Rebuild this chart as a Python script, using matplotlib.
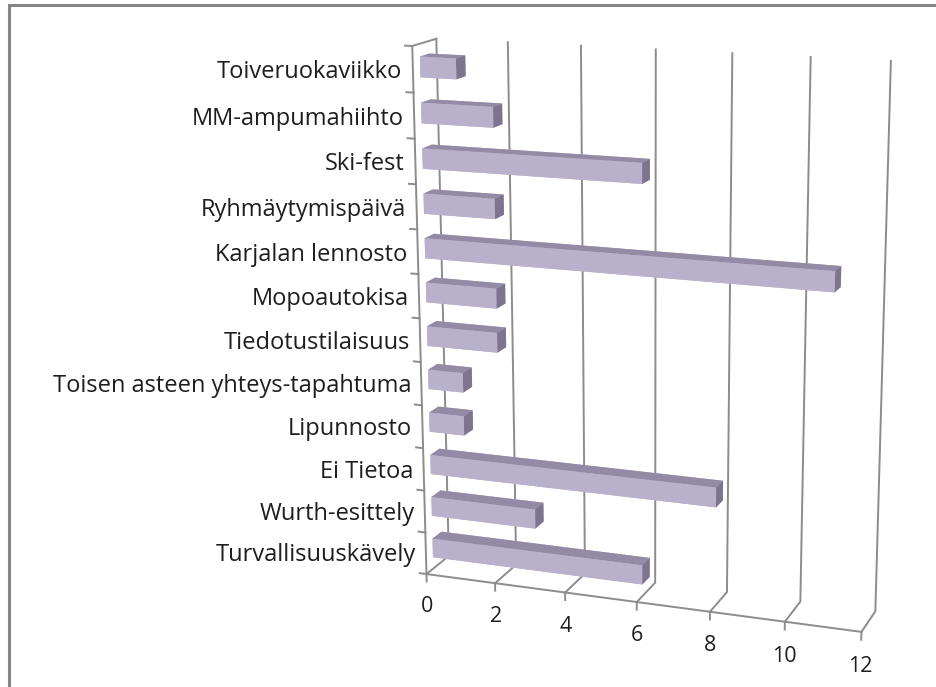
import matplotlib
matplotlib.use("Agg")
import matplotlib.pyplot as plt
from matplotlib.patches import Rectangle
from mpl_toolkits.mplot3d import proj3d
import numpy as np

# --- data (top to bottom as shown) ---
categories = ["Toiveruokaviikko", "MM-ampumahiihto", "Ski-fest", "Ryhmäytymispäivä",
              "Karjalan lennosto", "Mopoautokisa", "Tiedotustilaisuus",
              "Toisen asteen yhteys-tapahtuma", "Lipunnosto", "Ei Tietoa",
              "Wurth-esittely", "Turvallisuuskävely"]
values = [1, 2, 6, 2, 11, 2, 2, 1, 1, 8, 3, 6]
value_ticks = [0, 2, 4, 6, 8, 10, 12]

FACE = "#b9b0cb"
TOP = "#938aa6"
END = "#7d7490"
GRID = "#8c8c8c"
TXT = "#1e1e1e"
FONT = "Open Sans"

fig = plt.figure(figsize=(9.36, 6.87), dpi=100)
# chart-area border (right and bottom edges fall outside the picture)
fig.patches.append(Rectangle((9 / 936, -0.05), 1.0, (682 / 687) + 0.05, transform=fig.transFigure,
                             fill=False, edgecolor="#868686", lw=2.2))

# 3D axes: value -> x, depth -> y, category -> z
ax = fig.add_axes([0.339, 0.039, 0.684, 0.932], projection="3d")
ax.set_proj_type("persp", focal_length=0.65)
ax.view_init(elev=15, azim=-70.5)
ax.set_box_aspect((480, 58, 568), zoom=1.11)
n = len(categories)
ax.set_xlim(0, 12)
ax.set_ylim(0, 1)
ax.set_zlim(0, n)
ax.set_xticks([])
ax.set_yticks([])
ax.set_zticks([])
ax.set_axis_off()

# gridlines: along the floor (front->back) then up the back wall
for v in value_ticks:
    ax.plot([v, v, v], [0, 1, 1], [0, 0, n], color=GRID, lw=1.4)
    ax.plot([v, v], [0, 0], [0, -0.18], color=GRID, lw=1.4)
ax.plot([0, 12], [0, 0], [0, 0], color=GRID, lw=1.4)
# left wall edges + category axis ticks
ax.plot([0, 0, 0], [0, 0, 1], [0, n, n], color=GRID, lw=1.4)
for k in range(n + 1):
    ax.plot([0, -0.2], [0, 0], [k, k], color=GRID, lw=1.4)

# bars (faces: bottom, top, front, back, left, right)
zpos = np.arange(n)[::-1] + 0.5
bh = 0.45
depth = 0.4
cols = []
for _ in values:
    cols += [FACE, TOP, FACE, FACE, FACE, END]
ax.bar3d(np.zeros(n), np.full(n, 0.3), zpos - bh / 2, values, np.full(n, depth),
         np.full(n, bh), color=cols, shade=False, edgecolor="none")

# labels: project the 3D anchor points, then place flat text there
fig.canvas.draw()
M = ax.get_proj()


def flat(x, y, z):
    x2, y2, _ = proj3d.proj_transform(x, y, z, M)
    return x2, y2


for v in value_ticks:
    px, py = flat(v, 0, -0.8)
    ax.text2D(px, py, str(v), transform=ax.transData, ha="center", va="center",
              fontsize=15.5, family=FONT, color=TXT)

for cat, z in zip(categories, zpos):
    px, py = flat(-0.3, 0, z - 0.08)
    ax.text2D(px, py, cat, transform=ax.transData, ha="right", va="center",
              fontsize=17, family=FONT, color=TXT)

fig.savefig("out.png", dpi=100)
